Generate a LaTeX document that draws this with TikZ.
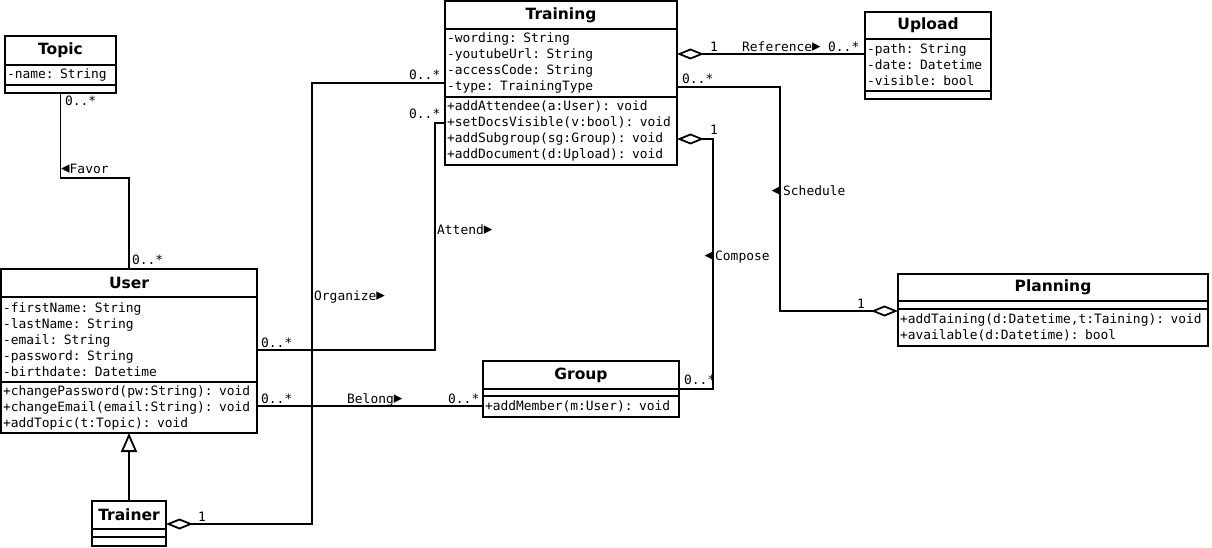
\documentclass[tikz,border=0pt]{standalone}
\usepackage{fontspec}
\usetikzlibrary{positioning,arrows.meta}
\newfontfamily\clsfont{DejaVu Sans}
\newfontfamily\monofont{DejaVu Sans Mono}
\newfontfamily\symfont{DejaVu Sans}
\newcommand{\rtri}{{\symfont\fontsize{17}{16}\selectfont ▸}}
\newcommand{\ltri}{{\symfont\fontsize{17}{16}\selectfont ◂}}
\begin{document}
\begin{tikzpicture}[x=1pt, y=-1pt,
  clsbox/.style={draw, line width=1.8pt, outer sep=0pt, inner xsep=2pt, inner ysep=0pt, align=center, font=\clsfont\bfseries\fontsize{15.5}{16}\selectfont},
  clspart/.style={draw, line width=1.8pt, outer sep=0pt, inner xsep=2pt, inner ysep=0pt, align=left, font=\monofont\fontsize{12.9}{16}\selectfont},
  lbl/.style={inner sep=0pt, anchor=base west, font=\monofont\fontsize{12.9}{16}\selectfont},
  link/.style={line width=1.8pt},
  agg/.style={link, {Diamond[open,length=27pt,width=11pt]}-},
  isa/.style={link, -{Triangle[open,length=19pt,width=16pt]}}]
\useasboundingbox (0,0) rectangle (1212,548);

% classes
\node[clsbox, text width=228pt, minimum height=28pt, anchor=north west] (training) at (445,1) {Training};
\node[clspart, text width=228pt, minimum height=68pt, below=0pt of training] (training-att) {-wording: String\\-youtubeUrl: String\\-accessCode: String\\-type: TrainingType};
\node[clspart, text width=228pt, minimum height=68pt, below=0pt of training-att] (training-op) {+addAttendee(a:User): void\\+setDocsVisible(v:bool): void\\+addSubgroup(sg:Group): void\\+addDocument(d:Upload): void};

\node[clsbox, text width=122pt, minimum height=27pt, anchor=north west] (upload) at (865,12) {Upload};
\node[clspart, text width=122pt, minimum height=52pt, below=0pt of upload] (upload-att) {-path: String\\-date: Datetime\\-visible: bool};
\node[clspart, text width=122pt, minimum height=8pt, below=0pt of upload-att] (upload-op) {};

\node[clsbox, text width=107pt, minimum height=29pt, anchor=north west] (topic) at (5,36) {Topic};
\node[clspart, text width=107pt, minimum height=20pt, below=0pt of topic] (topic-att) {-name: String};
\node[clspart, text width=107pt, minimum height=8pt, below=0pt of topic-att] (topic-op) {};

\node[clsbox, text width=252pt, minimum height=28pt, anchor=north west] (user) at (1,269) {User};
\node[clspart, text width=252pt, minimum height=85pt, below=0pt of user] (user-att) {-firstName: String\\-lastName: String\\-email: String\\-password: String\\-birthdate: Datetime};
\node[clspart, text width=252pt, minimum height=51pt, below=0pt of user-att] (user-op) {+changePassword(pw:String): void\\+changeEmail(email:String): void\\+addTopic(t:Topic): void};

\node[clsbox, text width=70pt, minimum height=28pt, anchor=north west] (trainer) at (92,501) {Trainer};
\node[clspart, text width=70pt, minimum height=8pt, below=0pt of trainer] (trainer-att) {};
\node[clspart, text width=70pt, minimum height=9pt, below=0pt of trainer-att] (trainer-op) {};

\node[clsbox, text width=192pt, minimum height=28pt, anchor=north west] (group) at (483,361) {Group};
\node[clspart, text width=192pt, minimum height=7pt, below=0pt of group] (group-att) {};
\node[clspart, text width=192pt, minimum height=21pt, below=0pt of group-att] (group-op) {+addMember(m:User): void};

\node[clsbox, text width=306pt, minimum height=27pt, anchor=north west] (planning) at (898,274) {Planning};
\node[clspart, text width=306pt, minimum height=8pt, below=0pt of planning] (planning-att) {};
\node[clspart, text width=306pt, minimum height=37pt, below=0pt of planning-att] (planning-op) {+addTaining(d:Datetime,t:Taining): void\\+available(d:Datetime): bool};

% associations
\draw[agg] ([yshift=-25pt]training-att.north east) -- ([yshift=-15pt]upload-att.north west);
\draw[agg] ([yshift=-42pt]training-op.north east) -- ++(36,0) |- (group.south east);
\draw[agg] ([yshift=-2pt]planning-op.north west) -- ++(-118,0) |- ([yshift=10pt]training-att.south east);
\draw[agg] ([yshift=5pt]trainer.south east) -- ++(146,0) |- ([yshift=14pt]training-att.south west);
\draw[link] ([yshift=32pt]user-att.south east) -- ++(178,0) |- ([yshift=-26pt]training-op.north west);
\draw[link] ([yshift=-24pt]user-op.north east) -- ([yshift=-10pt]group-op.north west);
\draw[link] (topic-op.south) -- ++(0,85) -| (user.north);
\draw[isa] (trainer.north) -- (user-op.south);

% labels
\node[lbl] (ref-m1) at (710,52) {1};
\node[lbl] (ref-name) at (742,52) {Reference\rtri};
\node[lbl] (ref-m2) at (828,52) {0..*};
\node[lbl] (sched-m1) at (682,84) {0..*};
\node[lbl] (sched-name) at (783,196) {\llap{\ltri\hspace{3pt}}Schedule};
\node[lbl] (sched-m2) at (857,308) {1};
\node[lbl] (comp-m1) at (710,135) {1};
\node[lbl] (comp-name) at (715,260) {\llap{\ltri\hspace{2pt}}Compose};
\node[lbl] (comp-m2) at (684,384) {0..*};
\node[lbl] (org-m1) at (198,521) {1};
\node[lbl] (org-name) at (314,300) {Organize\rtri};
\node[lbl] (org-m2) at (409,80) {0..*};
\node[lbl] (att-m1) at (261,347) {0..*};
\node[lbl] (att-name) at (437,234) {Attend\rtri};
\node[lbl] (att-m2) at (409,119) {0..*};
\node[lbl] (bel-m1) at (261,403) {0..*};
\node[lbl] (bel-name) at (347,403) {Belong\rtri};
\node[lbl] (bel-m2) at (448,403) {0..*};
\node[lbl] (fav-m1) at (65,106) {0..*};
\node[lbl] (fav-name) at (61,174) {\ltri Favor};
\node[lbl] (fav-m2) at (132,264) {0..*};
\end{tikzpicture}
\end{document}
